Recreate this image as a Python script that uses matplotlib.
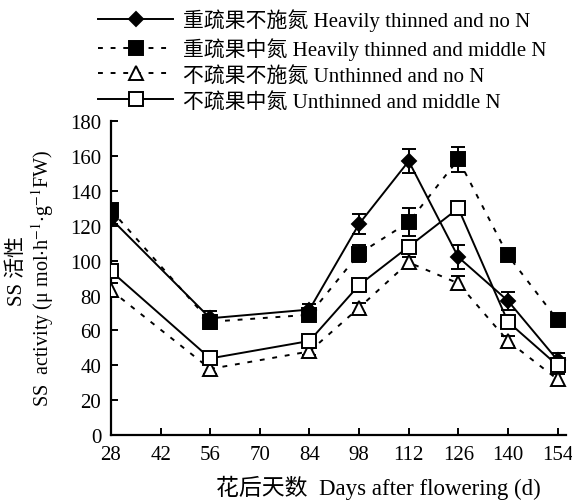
import matplotlib
matplotlib.use("Agg")
import matplotlib.pyplot as plt
from matplotlib.lines import Line2D

plt.rcParams['font.family'] = ['Liberation Serif', 'Noto Sans CJK SC', 'DejaVu Sans']
plt.rcParams['mathtext.fontset'] = 'stix'

days = [28, 56, 84, 98, 112, 126, 140, 154]
xticks = [28, 42, 56, 70, 84, 98, 112, 126, 140, 154]
yticks = [0, 20, 40, 60, 80, 100, 120, 140, 160, 180]

ht_noN = [124, 67, 72, 121, 157, 102, 77, 43]
ht_noN_err = [3, 4, 3, 6, 7, 7, 5, 4]
ht_midN = [129, 65, 69, 104, 122, 158, 103, 66]
ht_midN_err = [3, 4, 3, 5, 8, 7, 3, 3]
un_noN = [83, 38, 48, 73, 99, 87, 54, 32]
un_noN_err = [4, 3, 2, 3, 3, 4, 3, 3]
un_midN = [94, 44, 54, 86, 108, 130, 65, 40]
un_midN_err = [2, 3, 2, 2, 3, 3, 3, 3]

labels = ["重疏果不施氮 Heavily thinned and no N",
          "重疏果中氮 Heavily thinned and middle N",
          "不疏果不施氮 Unthinned and no N",
          "不疏果中氮 Unthinned and middle N"]

fig = plt.figure(figsize=(5.72, 5.02), dpi=100)
ax = fig.add_axes([0.194, 0.131, 0.795, 0.626])

dash = (0, (2.5, 4))
styles = [
    dict(y=ht_noN, e=ht_noN_err, marker='D', ms=7, mfc='black', ls='-'),
    dict(y=ht_midN, e=ht_midN_err, marker='s', ms=10, mfc='black', ls=dash),
    dict(y=un_noN, e=un_noN_err, marker='^', ms=10, mfc='white', ls=dash),
    dict(y=un_midN, e=un_midN_err, marker='s', ms=10, mfc='white', ls='-'),
]
handles = []
for s, lab in zip(styles, labels):
    ax.errorbar(days, s['y'], yerr=s['e'], color='black', lw=1.4,
                ls=s['ls'], marker=s['marker'], ms=s['ms'], mfc=s['mfc'],
                mec='black', mew=1.4, capsize=5, capthick=1.6, elinewidth=1.4,
                zorder=3)
    handles.append(Line2D([], [], color='black', lw=1.4, ls=s['ls'],
                          marker=s['marker'], ms=s['ms'], mfc=s['mfc'],
                          mec='black', mew=1.4))

ax.set_xlim(28, 156.3)
ax.set_ylim(0, 180)
ax.set_xticks(xticks)
ax.set_yticks(yticks)
ax.spines['top'].set_visible(False)
ax.spines['right'].set_visible(False)
for sp in ['left', 'bottom']:
    ax.spines[sp].set_linewidth(1.6)
ax.tick_params(direction='in', length=5, width=1.4, labelsize=15, pad=7)

fig.legend(handles, labels, loc='upper left', bbox_to_anchor=(0.15, 1.006),
           frameon=False, fontsize=15, handlelength=3.6, handletextpad=0.45,
           labelspacing=0.28, borderaxespad=0.2)

fig.text(0.03, 0.46, "SS 活性", rotation=90, ha='center', va='center', fontsize=15)
fig.text(0.075, 0.445, "SS  activity (μ mol$\\cdot$h$^{-1}$$\\cdot$g$^{-1}$FW)",
         rotation=90, ha='center', va='center', fontsize=14.5)
fig.text(0.662, 0.028, "花后天数  Days after flowering (d)", ha='center', va='center',
         fontsize=16.5)

fig.savefig("out.png", dpi=100)
